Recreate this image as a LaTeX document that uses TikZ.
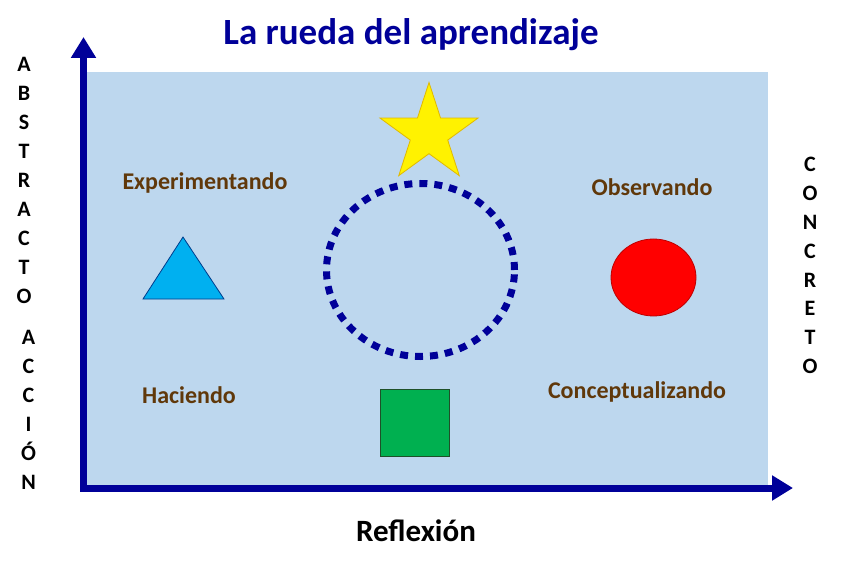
\documentclass[tikz,border=0pt]{standalone}
\usepackage{fontspec}
\setmainfont{Carlito}
\usetikzlibrary{arrows.meta,shapes.geometric}
\definecolor{navy}{RGB}{0,0,153}
\definecolor{panel}{RGB}{189,215,238}
\definecolor{labelbrown}{RGB}{96,56,10}
\definecolor{tri}{RGB}{0,176,240}
\definecolor{triedge}{RGB}{0,60,140}
\definecolor{sq}{RGB}{0,176,80}
\definecolor{sqedge}{RGB}{30,80,40}
\definecolor{staredge}{RGB}{225,185,0}
\definecolor{rededge}{RGB}{190,0,0}
\tikzset{
  lbl/.style={font=\bfseries\fontsize{24}{27}\selectfont, text=labelbrown, inner sep=0pt},
  sideletter/.style={font=\bfseries\fontsize{22}{24}\selectfont, inner sep=0pt, anchor=base},
  axis/.style={draw=navy, line width=7pt, line join=miter,
    -{Triangle[width=24pt,length=21pt]}},
}
\begin{document}
\begin{tikzpicture}[x=1pt,y=-1pt]
\useasboundingbox (0,0) rectangle (843,569);
\fill[white] (0,0) rectangle (843,569);
% panel
\fill[panel] (80,72) rectangle (768,488);
% title
\node[font=\bfseries\fontsize{37}{40}\selectfont, text=navy, inner sep=0pt] (title) at (411,35) {La rueda del aprendizaje};
% axes
\coordinate (origin) at (83.5,488);
\coordinate (ytip) at (83.5,37);
\coordinate (xtip) at (793,488);
\draw[axis] (origin) -- (ytip);
\draw[axis] ([xshift=-3.5pt]origin) -- (xtip);
% axis label
\node[font=\bfseries\fontsize{31}{34}\selectfont, inner sep=0pt] (refl) at (416,531) {Reflexión};
% left letters
\foreach \c [count=\i from 0] in {A,B,S,T,R,A,C,T,O}
  \node[sideletter] (abs\i) at (24,{72+29*\i}) {\c};
\foreach \c [count=\i from 0] in {A,C,C,I,Ó,N}
  \node[sideletter] (acc\i) at (28.5,{344+29*\i}) {\c};
% right letters
\foreach \c [count=\i from 0] in {C,O,N,C,R,E,T,O}
  \node[sideletter] (con\i) at (810,{172+28.8*\i}) {\c};
% labels
\node[lbl] (exp) at (205,183) {Experimentando};
\node[lbl] (obs) at (652,187) {Observando};
\node[lbl] (hac) at (189,395) {Haciendo};
\node[lbl] (conc) at (637,392) {Conceptualizando};
% wheel
\node[ellipse, draw=navy, line width=7pt, dash pattern=on 8pt off 7pt,
  minimum width=188pt, minimum height=173pt, inner sep=0pt] (wheel) at (420.5,270) {};
% star
\node[star, star points=5, star point ratio=2.618, minimum size=103pt, inner sep=0pt,
  fill=yellow, draw=staredge, line width=0.8pt] (star) at (429,134) {};
% triangle
\coordinate (t1) at (183,237);
\coordinate (t2) at (143,299);
\coordinate (t3) at (224,299);
\filldraw[fill=tri, draw=triedge, line width=0.8pt] (t1) -- (t2) -- (t3) -- cycle;
% red circle
\node[ellipse, fill=red, draw=rededge, line width=0.8pt, minimum width=85pt, minimum height=77pt, inner sep=0pt] (redc) at (653.5,277.5) {};
% green square
\node[rectangle, fill=sq, draw=sqedge, line width=0.8pt, minimum width=69pt, minimum height=67pt, inner sep=0pt] (square) at (414.5,422.5) {};
\end{tikzpicture}
\end{document}
